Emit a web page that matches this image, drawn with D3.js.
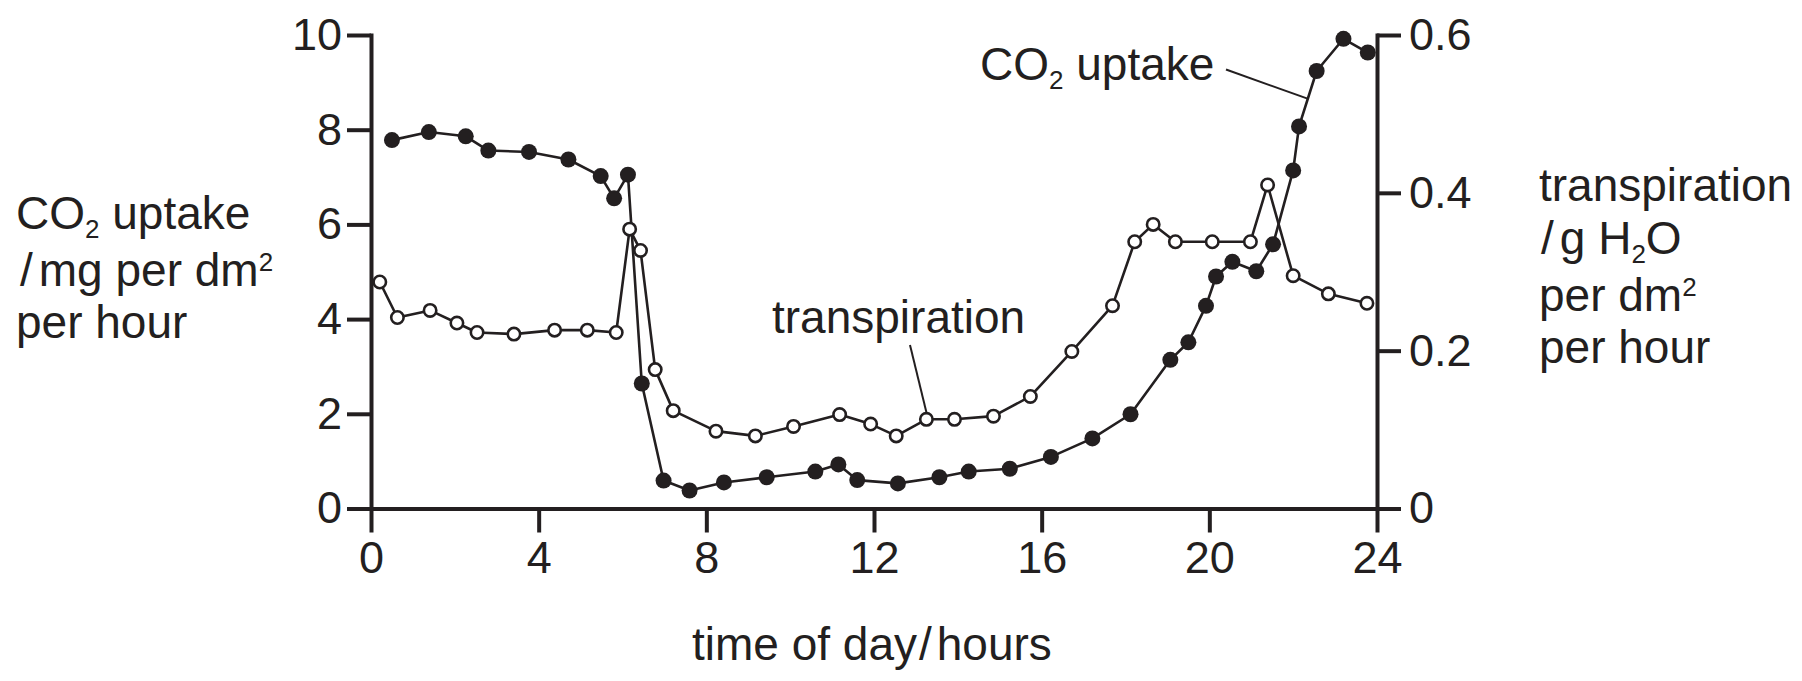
<!DOCTYPE html>
<html>
<head>
<meta charset="utf-8">
<script src="https://cdn.jsdelivr.net/npm/d3@7"></script>
<style>
  html, body { margin: 0; padding: 0; background: #fff; }
  svg { display: block; }
  text { font-family: "Liberation Sans", Arial, Helvetica, sans-serif; fill: #231f20; }
</style>
</head>
<body>
<svg id="chart" width="1802" height="681"></svg>
<script>
// ---------------- data ----------------
const xTickValues = [0, 4, 8, 12, 16, 20, 24];
const leftTickValues = [0, 2, 4, 6, 8, 10];
const rightTickValues = [0, 0.2, 0.4, 0.6];

// CO2 uptake / mg per dm2 per hour (filled circles)
const co2Hours = [0.5, 1.38, 2.26, 2.8, 3.77, 4.71, 5.48, 5.8, 6.13, 6.46, 6.98, 7.6, 8.42, 9.44, 10.6, 11.15, 11.6, 12.57, 13.56, 14.26, 15.24, 16.22, 17.21, 18.12, 19.07, 19.5, 19.92, 20.16, 20.55, 21.12, 21.52, 22.0, 22.14, 22.56, 23.2, 23.78];
const co2Uptake = [7.78, 7.95, 7.86, 7.56, 7.53, 7.37, 7.02, 6.55, 7.05, 2.64, 0.59, 0.38, 0.55, 0.66, 0.78, 0.93, 0.6, 0.53, 0.66, 0.78, 0.84, 1.09, 1.48, 1.99, 3.14, 3.51, 4.28, 4.9, 5.21, 5.01, 5.58, 7.14, 8.07, 9.24, 9.92, 9.63];

// transpiration / g H2O per dm2 per hour (open circles)
const transpHours = [0.21, 0.63, 1.41, 2.05, 2.53, 3.41, 4.38, 5.16, 5.85, 6.17, 6.43, 6.78, 7.21, 8.23, 9.17, 10.08, 11.18, 11.92, 12.53, 13.25, 13.92, 14.85, 15.73, 16.72, 17.69, 18.22, 18.66, 19.19, 20.07, 20.98, 21.39, 22.0, 22.84, 23.76];
const transpiration = [0.287, 0.242, 0.251, 0.235, 0.223, 0.221, 0.226, 0.226, 0.223, 0.354, 0.327, 0.176, 0.124, 0.098, 0.092, 0.104, 0.119, 0.107, 0.092, 0.113, 0.113, 0.117, 0.142, 0.199, 0.257, 0.338, 0.36, 0.338, 0.338, 0.338, 0.41, 0.295, 0.272, 0.26];

// ---------------- layout ----------------
const INK = "#231f20";
const FS = 46;
const SUBFS = 26;
const svg = d3.select("#chart");

const x = d3.scaleLinear().domain([0, 24]).range([371, 1377]);
const yL = d3.scaleLinear().domain([0, 10]).range([508.5, 35]);
const yR = d3.scaleLinear().domain([0, 0.6]).range([508.5, 35]);

function styleAxis(g, fs) {
  g.attr("font-family", null).attr("font-size", null);
  g.select(".domain").attr("stroke", INK).attr("stroke-width", 4).attr("stroke-linecap", "square");
  g.selectAll(".tick line").attr("stroke", INK).attr("stroke-width", 4);
  g.selectAll(".tick text").attr("fill", INK).style("font-size", fs + "px");
}

// x axis
const gx = svg.append("g").attr("transform", `translate(0,${yL(0)})`)
  .call(d3.axisBottom(x).tickValues(xTickValues).tickFormat(d3.format("d"))
    .tickSize(24).tickSizeOuter(0).tickPadding(9));
styleAxis(gx, 45);

// left axis
const gl = svg.append("g").attr("transform", `translate(${x(0)},0)`)
  .call(d3.axisLeft(yL).tickValues(leftTickValues).tickFormat(d3.format("d"))
    .tickSize(24).tickSizeOuter(0).tickPadding(5));
styleAxis(gl, 45);

// right axis
const gr = svg.append("g").attr("transform", `translate(${x(24)},0)`)
  .call(d3.axisRight(yR).tickValues(rightTickValues).tickFormat(d => d === 0 ? "0" : d3.format(".1f")(d))
    .tickSize(24).tickSizeOuter(0).tickPadding(8));
styleAxis(gr, 45);

// ---------------- series ----------------
const co2Data = co2Hours.map((h, i) => ({ h, v: co2Uptake[i] }));
const trData = transpHours.map((h, i) => ({ h, v: transpiration[i] }));

const lineCO2 = d3.line().x(d => x(d.h)).y(d => yL(d.v));
const lineTr = d3.line().x(d => x(d.h)).y(d => yR(d.v));

svg.append("path").datum(co2Data).attr("d", lineCO2)
  .attr("fill", "none").attr("stroke", INK).attr("stroke-width", 2.6).attr("stroke-linejoin", "round");
svg.append("path").datum(trData).attr("d", lineTr)
  .attr("fill", "none").attr("stroke", INK).attr("stroke-width", 2.6).attr("stroke-linejoin", "round");

svg.append("g").selectAll("circle").data(co2Data).join("circle")
  .attr("cx", d => x(d.h)).attr("cy", d => yL(d.v)).attr("r", 8).attr("fill", INK);

svg.append("g").selectAll("circle").data(trData).join("circle")
  .attr("cx", d => x(d.h)).attr("cy", d => yR(d.v)).attr("r", 6.2)
  .attr("fill", "#fff").attr("stroke", INK).attr("stroke-width", 2.6);

// ---------------- annotations ----------------
svg.append("line")
  .attr("x1", 1226).attr("y1", 69.5)
  .attr("x2", x(22.36)).attr("y2", yL(8.65))
  .attr("stroke", INK).attr("stroke-width", 2);
svg.append("line")
  .attr("x1", 910).attr("y1", 345)
  .attr("x2", x(13.25)).attr("y2", yR(0.113) - 7)
  .attr("stroke", INK).attr("stroke-width", 2);

function richText(xp, yp, parts, fs) {
  const t = svg.append("text").attr("x", xp).attr("y", yp).style("font-size", fs + "px");
  parts.forEach(p => {
    const s = t.append("tspan").text(p.t);
    if (p.sub) s.style("font-size", SUBFS + "px").attr("dy", 9);
    if (p.sup) s.style("font-size", SUBFS + "px").attr("dy", -15);
    if (p.reset) s.attr("dy", p.reset);
    if (p.dx) s.attr("dx", p.dx);
  });
  return t;
}

// chart annotations
richText(980, 80, [{ t: "CO" }, { t: "2", sub: true }, { t: " uptake", reset: -9 }], FS);
richText(772, 333, [{ t: "transpiration" }], FS);

// left axis title
richText(16, 229, [{ t: "CO" }, { t: "2", sub: true }, { t: " uptake", reset: -9 }], FS);
richText(20, 286, [{ t: "/" }, { t: "mg per dm", dx: 6 }, { t: "2", sup: true }], FS);
richText(16, 338, [{ t: "per hour" }], FS);

// right axis title
richText(1539, 201, [{ t: "transpiration" }], FS);
richText(1541, 254, [{ t: "/" }, { t: "g H", dx: 6 }, { t: "2", sub: true }, { t: "O", reset: -9 }], FS);
richText(1539, 311, [{ t: "per dm" }, { t: "2", sup: true }], FS);
richText(1539, 363, [{ t: "per hour" }], FS);

// x axis title
richText(692, 660, [{ t: "time of day" }, { t: "/", dx: 2 }, { t: "hours", dx: 5 }], FS);
</script>
</body>
</html>
